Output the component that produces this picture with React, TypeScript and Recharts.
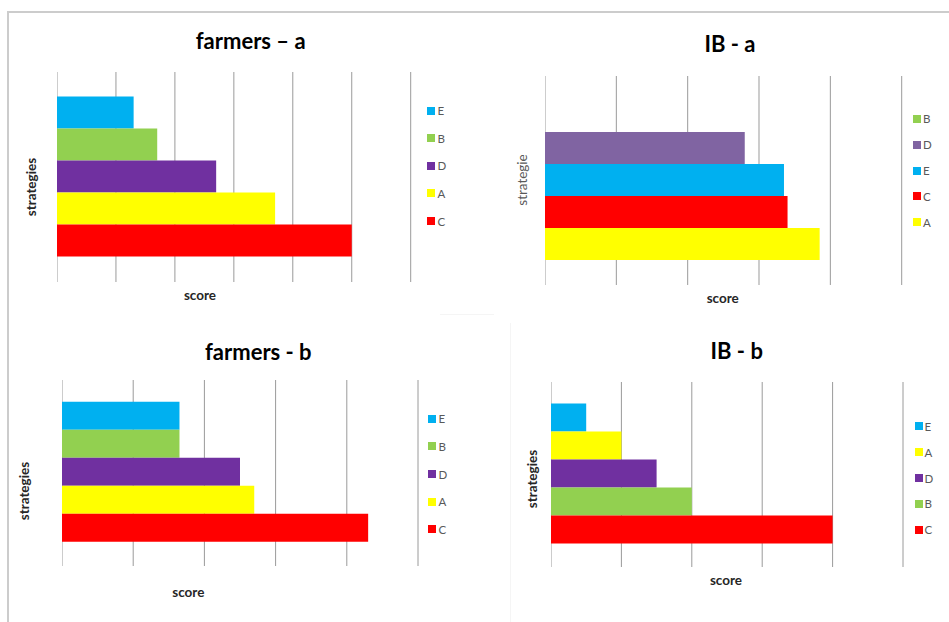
import React from 'react';
import { BarChart, Bar, XAxis, YAxis, CartesianGrid, Legend } from 'recharts';

// strategy colours (IB - a uses a softer purple for D)
const colors: Record<string, string> = {
  E: '#00b0f0',
  B: '#92d050',
  D: '#7030a0',
  A: '#ffff00',
  C: '#ff0000',
};

const farmersASeries = ['E', 'B', 'D', 'A', 'C'];
const farmersAValues = [1.3, 1.7, 2.7, 3.7, 5.0];

const ibASeries = ['B', 'D', 'E', 'C', 'A'];
const ibAValues = [0, 2.8, 3.35, 3.4, 3.85];

const farmersBSeries = ['E', 'B', 'D', 'A', 'C'];
const farmersBValues = [1.65, 1.65, 2.5, 2.7, 4.3];

const ibBSeries = ['E', 'A', 'D', 'B', 'C'];
const ibBValues = [0.5, 1.0, 1.5, 2.0, 4.0];

const sixTicks = [0, 1, 2, 3, 4, 5, 6];
const fiveTicks = [0, 1, 2, 3, 4, 5];

const FONT = 'Lato, "Open Sans", sans-serif';

interface PanelProps {
  title: string;
  yLabel: string;
  yLabelBold?: boolean;
  series: string[];
  values: number[];
  ticks: number[];
  colorOverride?: Record<string, string>;
  plot: { x: number; y: number; w: number; h: number };
  gap: number;
  legend: { x: number; y: number; step: number };
  titlePos: { x: number; y: number };
  yLabelPos: { x: number; y: number };
  scorePos: { x: number; y: number };
}

const LEGEND_W = 70;

// tick labels are not shown in the reference, but the grid needs the ticks
const NoTick = () => <g />;

function Panel(p: PanelProps) {
  const row: Record<string, any> = { name: 'strategies' };
  p.series.forEach((s, i) => {
    row[s] = p.values[i];
  });
  const col = (s: string) => (p.colorOverride && p.colorOverride[s]) || colors[s];

  const legendContent = () => (
    <div>
      {p.series.map((s) => (
        <div
          key={s}
          style={{ height: p.legend.step, display: 'flex', alignItems: 'center', fontFamily: FONT, fontSize: 11.5, color: '#595959' }}
        >
          <span style={{ width: 8, height: 8, background: col(s), display: 'inline-block', marginRight: 2 }} />
          {s}
        </div>
      ))}
    </div>
  );

  const center: React.CSSProperties = { position: 'absolute', transform: 'translate(-50%, -50%)', whiteSpace: 'nowrap', fontFamily: FONT };

  return (
    <>
      <div style={{ ...center, left: p.titlePos.x, top: p.titlePos.y, fontSize: 22, fontWeight: 700, color: '#000' }}>{p.title}</div>
      <div
        style={{
          ...center,
          left: p.yLabelPos.x,
          top: p.yLabelPos.y,
          transform: 'translate(-50%, -50%) rotate(-90deg)',
          fontSize: 13.5,
          fontWeight: p.yLabelBold === false ? 400 : 700,
          color: p.yLabelBold === false ? '#595959' : '#262626',
        }}
      >
        {p.yLabel}
      </div>
      <div style={{ ...center, left: p.scorePos.x, top: p.scorePos.y, fontSize: 13.5, fontWeight: 700, color: '#262626' }}>score</div>
      <div style={{ position: 'absolute', left: p.plot.x, top: p.plot.y }}>
        <BarChart
          width={p.plot.w + LEGEND_W}
          height={p.plot.h}
          data={[row]}
          layout="vertical"
          margin={{ top: 0, right: LEGEND_W, bottom: 0, left: 0 }}
          barGap={0}
          barCategoryGap={p.gap}
        >
          <CartesianGrid horizontal={false} stroke="#9a9a9a" />
          <XAxis
            type="number"
            domain={[p.ticks[0], p.ticks[p.ticks.length - 1]]}
            ticks={p.ticks}
            interval={0}
            tick={NoTick}
            axisLine={false}
            tickLine={false}
            height={0}
          />
          <YAxis type="category" dataKey="name" hide width={0} />
          <Legend
            layout="horizontal"
            align="center"
            verticalAlign="middle"
            content={legendContent}
            wrapperStyle={{ left: p.legend.x - p.plot.x, top: p.legend.y - p.plot.y - p.legend.step / 2, width: 40, height: 'auto' }}
          />
          {p.series.map((s) => (
            <Bar key={s} dataKey={s} name={s} fill={col(s)} isAnimationActive={false} />
          ))}
        </BarChart>
      </div>
    </>
  );
}

export default function App() {
  return (
    <div style={{ position: 'absolute', left: 0, top: 0, width: 949, height: 622, background: '#fff', overflow: 'hidden' }}>
      {/* outer frame */}
      <div style={{ position: 'absolute', left: 7, top: 11, width: 942, height: 2, background: '#cccccc' }} />
      <div style={{ position: 'absolute', left: 7, top: 11, width: 2, height: 611, background: '#cccccc' }} />
      <div style={{ position: 'absolute', left: 440, top: 314, width: 54, height: 1, background: '#f5f5f5' }} />
      <div style={{ position: 'absolute', left: 510, top: 323, width: 1, height: 299, background: '#f5f5f5' }} />

      <Panel
        title="farmers – a"
        yLabel="strategies"
        series={farmersASeries}
        values={farmersAValues}
        ticks={sixTicks}
        plot={{ x: 57.3, y: 71.7, w: 353.7, h: 210.3 }}
        gap={24.4}
        legend={{ x: 427.5, y: 110.7, step: 27.6 }}
        titlePos={{ x: 250.7, y: 40 }}
        yLabelPos={{ x: 30.7, y: 186.7 }}
        scorePos={{ x: 200, y: 295 }}
      />
      <Panel
        title="IB - a"
        yLabel="strategie"
        yLabelBold={false}
        series={ibASeries}
        values={ibAValues}
        ticks={fiveTicks}
        colorOverride={{ D: '#8064a2' }}
        plot={{ x: 545, y: 76, w: 356.7, h: 209 }}
        gap={24}
        legend={{ x: 913, y: 119, step: 25.8 }}
        titlePos={{ x: 730, y: 43.3 }}
        yLabelPos={{ x: 521.7, y: 180 }}
        scorePos={{ x: 722.7, y: 297.7 }}
      />
      <Panel
        title="farmers - b"
        yLabel="strategies"
        series={farmersBSeries}
        values={farmersBValues}
        ticks={fiveTicks}
        plot={{ x: 62.3, y: 380, w: 356, h: 186 }}
        gap={21.8}
        legend={{ x: 428.5, y: 418.7, step: 27.7 }}
        titlePos={{ x: 258.3, y: 351 }}
        yLabelPos={{ x: 24, y: 491 }}
        scorePos={{ x: 188.3, y: 592 }}
      />
      <Panel
        title="IB - b"
        yLabel="strategies"
        series={ibBSeries}
        values={ibBValues}
        ticks={fiveTicks}
        plot={{ x: 551, y: 382, w: 352, h: 185 }}
        gap={21.5}
        legend={{ x: 914.5, y: 426.3, step: 25.9 }}
        titlePos={{ x: 736.7, y: 350 }}
        yLabelPos={{ x: 532.3, y: 479.3 }}
        scorePos={{ x: 726, y: 580 }}
      />
    </div>
  );
}
